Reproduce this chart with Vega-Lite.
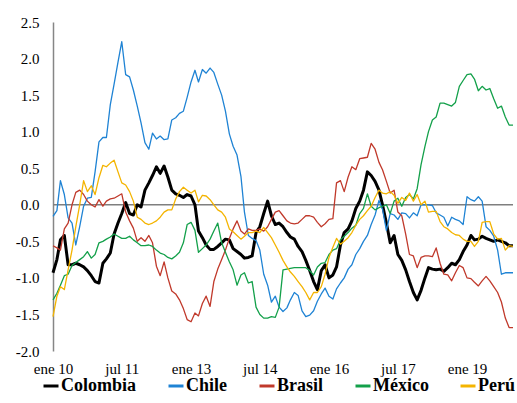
{
  "$schema": "https://vega.github.io/schema/vega-lite/v6.json",
  "width": 460,
  "height": 329,
  "autosize": "none",
  "padding": {"left": 53, "top": 22, "right": 4, "bottom": 52},
  "background": "white",
  "config": {"view": {"stroke": null}, "font": "Times New Roman"},
  "data": {"values": [
    {"fecha":"2010-01-01","Colombia":-0.93,"Chile":-0.16,"Brasil":-0.56,"México":-1.30,"Perú":-1.53},
    {"fecha":"2010-02-01","Colombia":-0.75,"Chile":-0.08,"Brasil":-0.59,"México":-1.21,"Perú":-1.25},
    {"fecha":"2010-03-01","Colombia":-0.48,"Chile":0.33,"Brasil":-0.62,"México":-1.10,"Perú":-1.12},
    {"fecha":"2010-04-01","Colombia":-0.42,"Chile":0.14,"Brasil":-0.33,"México":-0.97,"Perú":-1.16},
    {"fecha":"2010-05-01","Colombia":-0.82,"Chile":-0.18,"Brasil":-0.25,"México":-0.95,"Perú":-0.89},
    {"fecha":"2010-06-01","Colombia":-0.82,"Chile":-0.25,"Brasil":0.00,"México":-0.83,"Perú":-0.62},
    {"fecha":"2010-07-01","Colombia":-0.80,"Chile":-0.55,"Brasil":0.17,"México":-0.79,"Perú":-0.30},
    {"fecha":"2010-08-01","Colombia":-0.82,"Chile":-0.30,"Brasil":0.20,"México":-0.75,"Perú":0.00},
    {"fecha":"2010-09-01","Colombia":-0.85,"Chile":-0.02,"Brasil":0.14,"México":-0.71,"Perú":0.33},
    {"fecha":"2010-10-01","Colombia":-0.90,"Chile":0.09,"Brasil":0.05,"México":-0.64,"Perú":0.18},
    {"fecha":"2010-11-01","Colombia":-0.97,"Chile":0.10,"Brasil":0.00,"México":-0.73,"Perú":0.26},
    {"fecha":"2010-12-01","Colombia":-1.05,"Chile":0.45,"Brasil":-0.03,"México":-0.68,"Perú":0.14},
    {"fecha":"2011-01-01","Colombia":-1.07,"Chile":0.86,"Brasil":0.07,"México":-0.52,"Perú":0.37},
    {"fecha":"2011-02-01","Colombia":-0.80,"Chile":0.92,"Brasil":-0.02,"México":-0.50,"Perú":0.54},
    {"fecha":"2011-03-01","Colombia":-0.74,"Chile":0.92,"Brasil":0.05,"México":-0.47,"Perú":0.52},
    {"fecha":"2011-04-01","Colombia":-0.66,"Chile":1.37,"Brasil":0.08,"México":-0.44,"Perú":0.57},
    {"fecha":"2011-05-01","Colombia":-0.40,"Chile":1.65,"Brasil":0.09,"México":-0.40,"Perú":0.61},
    {"fecha":"2011-06-01","Colombia":-0.25,"Chile":1.95,"Brasil":0.12,"México":-0.43,"Perú":0.45},
    {"fecha":"2011-07-01","Colombia":-0.12,"Chile":2.23,"Brasil":0.15,"México":-0.46,"Perú":0.30},
    {"fecha":"2011-08-01","Colombia":0.03,"Chile":1.78,"Brasil":-0.10,"México":-0.46,"Perú":0.27},
    {"fecha":"2011-09-01","Colombia":-0.12,"Chile":1.75,"Brasil":-0.22,"México":-0.43,"Perú":0.18},
    {"fecha":"2011-10-01","Colombia":-0.14,"Chile":1.57,"Brasil":-0.32,"México":-0.48,"Perú":0.05},
    {"fecha":"2011-11-01","Colombia":0.00,"Chile":1.35,"Brasil":-0.50,"México":-0.52,"Perú":-0.17},
    {"fecha":"2011-12-01","Colombia":-0.03,"Chile":1.12,"Brasil":-0.45,"México":-0.56,"Perú":-0.20},
    {"fecha":"2012-01-01","Colombia":0.20,"Chile":0.85,"Brasil":-0.50,"México":-0.56,"Perú":-0.25},
    {"fecha":"2012-02-01","Colombia":0.30,"Chile":0.76,"Brasil":-0.42,"México":-0.55,"Perú":-0.27},
    {"fecha":"2012-03-01","Colombia":0.40,"Chile":0.98,"Brasil":-0.52,"México":-0.57,"Perú":-0.25},
    {"fecha":"2012-04-01","Colombia":0.52,"Chile":0.90,"Brasil":-0.84,"México":-0.62,"Perú":-0.22},
    {"fecha":"2012-05-01","Colombia":0.43,"Chile":0.94,"Brasil":-0.97,"México":-0.66,"Perú":-0.17},
    {"fecha":"2012-06-01","Colombia":0.53,"Chile":0.89,"Brasil":-0.78,"México":-0.68,"Perú":-0.10},
    {"fecha":"2012-07-01","Colombia":0.38,"Chile":0.90,"Brasil":-1.00,"México":-0.72,"Perú":-0.07},
    {"fecha":"2012-08-01","Colombia":0.20,"Chile":1.16,"Brasil":-1.18,"México":-0.74,"Perú":-0.07},
    {"fecha":"2012-09-01","Colombia":0.15,"Chile":1.19,"Brasil":-1.22,"México":-0.70,"Perú":0.08},
    {"fecha":"2012-10-01","Colombia":0.13,"Chile":1.25,"Brasil":-1.30,"México":-0.65,"Perú":0.18},
    {"fecha":"2012-11-01","Colombia":0.10,"Chile":1.28,"Brasil":-1.42,"México":-0.52,"Perú":0.24},
    {"fecha":"2012-12-01","Colombia":0.14,"Chile":1.47,"Brasil":-1.57,"México":-0.27,"Perú":0.20},
    {"fecha":"2013-01-01","Colombia":0.12,"Chile":1.68,"Brasil":-1.60,"México":-0.24,"Perú":0.16},
    {"fecha":"2013-02-01","Colombia":0.00,"Chile":1.84,"Brasil":-1.48,"México":-0.35,"Perú":0.20},
    {"fecha":"2013-03-01","Colombia":-0.36,"Chile":1.68,"Brasil":-1.52,"México":-0.65,"Perú":0.04},
    {"fecha":"2013-04-01","Colombia":-0.45,"Chile":1.85,"Brasil":-1.35,"México":-0.60,"Perú":0.13},
    {"fecha":"2013-05-01","Colombia":-0.55,"Chile":1.80,"Brasil":-1.25,"México":-0.55,"Perú":0.12},
    {"fecha":"2013-06-01","Colombia":-0.61,"Chile":1.87,"Brasil":-1.39,"México":-0.47,"Perú":0.07},
    {"fecha":"2013-07-01","Colombia":-0.61,"Chile":1.81,"Brasil":-1.05,"México":-0.36,"Perú":0.00},
    {"fecha":"2013-08-01","Colombia":-0.57,"Chile":1.65,"Brasil":-0.88,"México":-0.25,"Perú":-0.07},
    {"fecha":"2013-09-01","Colombia":-0.52,"Chile":1.50,"Brasil":-0.75,"México":-0.52,"Perú":-0.10},
    {"fecha":"2013-10-01","Colombia":-0.47,"Chile":1.28,"Brasil":-0.62,"México":-0.65,"Perú":-0.17},
    {"fecha":"2013-11-01","Colombia":-0.48,"Chile":0.97,"Brasil":-0.46,"México":-0.78,"Perú":-0.33},
    {"fecha":"2013-12-01","Colombia":-0.60,"Chile":0.80,"Brasil":-0.33,"México":-0.89,"Perú":-0.37},
    {"fecha":"2014-01-01","Colombia":-0.64,"Chile":0.68,"Brasil":-0.22,"México":-1.10,"Perú":-0.42},
    {"fecha":"2014-02-01","Colombia":-0.68,"Chile":0.39,"Brasil":-0.36,"México":-0.96,"Perú":-0.47},
    {"fecha":"2014-03-01","Colombia":-0.73,"Chile":-0.10,"Brasil":-0.40,"México":-0.93,"Perú":-0.43},
    {"fecha":"2014-04-01","Colombia":-0.72,"Chile":-0.42,"Brasil":-0.33,"México":-1.07,"Perú":-0.38},
    {"fecha":"2014-05-01","Colombia":-0.70,"Chile":-0.46,"Brasil":-0.35,"México":-1.05,"Perú":-0.38},
    {"fecha":"2014-06-01","Colombia":-0.38,"Chile":-0.49,"Brasil":-0.35,"México":-1.40,"Perú":-0.36},
    {"fecha":"2014-07-01","Colombia":-0.30,"Chile":-0.62,"Brasil":-0.33,"México":-1.50,"Perú":-0.38},
    {"fecha":"2014-08-01","Colombia":-0.12,"Chile":-0.95,"Brasil":-0.36,"México":-1.55,"Perú":-0.31},
    {"fecha":"2014-09-01","Colombia":0.05,"Chile":-1.10,"Brasil":-0.30,"México":-1.55,"Perú":-0.38},
    {"fecha":"2014-10-01","Colombia":-0.15,"Chile":-1.33,"Brasil":-0.20,"México":-1.53,"Perú":-0.45},
    {"fecha":"2014-11-01","Colombia":-0.27,"Chile":-1.25,"Brasil":-0.10,"México":-1.54,"Perú":-0.55},
    {"fecha":"2014-12-01","Colombia":-0.25,"Chile":-1.40,"Brasil":-0.08,"México":-1.40,"Perú":-0.65},
    {"fecha":"2015-01-01","Colombia":-0.30,"Chile":-1.46,"Brasil":-0.15,"México":-0.89,"Perú":-0.76},
    {"fecha":"2015-02-01","Colombia":-0.38,"Chile":-1.41,"Brasil":-0.22,"México":-0.88,"Perú":-0.85},
    {"fecha":"2015-03-01","Colombia":-0.44,"Chile":-1.30,"Brasil":-0.25,"México":-0.87,"Perú":-0.92},
    {"fecha":"2015-04-01","Colombia":-0.47,"Chile":-1.20,"Brasil":-0.26,"México":-0.86,"Perú":-0.98},
    {"fecha":"2015-05-01","Colombia":-0.57,"Chile":-1.24,"Brasil":-0.25,"México":-0.86,"Perú":-1.05},
    {"fecha":"2015-06-01","Colombia":-0.64,"Chile":-1.45,"Brasil":-0.20,"México":-0.86,"Perú":-1.12},
    {"fecha":"2015-07-01","Colombia":-0.76,"Chile":-1.53,"Brasil":-0.15,"México":-0.86,"Perú":-1.20},
    {"fecha":"2015-08-01","Colombia":-0.90,"Chile":-1.51,"Brasil":-0.15,"México":-0.90,"Perú":-1.30},
    {"fecha":"2015-09-01","Colombia":-1.05,"Chile":-1.45,"Brasil":-0.17,"México":-0.96,"Perú":-1.20},
    {"fecha":"2015-10-01","Colombia":-1.16,"Chile":-1.32,"Brasil":-0.24,"México":-0.85,"Perú":-1.20},
    {"fecha":"2015-11-01","Colombia":-0.90,"Chile":-1.22,"Brasil":-0.30,"México":-0.80,"Perú":-1.12},
    {"fecha":"2015-12-01","Colombia":-0.82,"Chile":-1.14,"Brasil":-0.26,"México":-0.79,"Perú":-0.95},
    {"fecha":"2016-01-01","Colombia":-1.00,"Chile":-1.25,"Brasil":-0.20,"México":-0.68,"Perú":-0.72},
    {"fecha":"2016-02-01","Colombia":-0.96,"Chile":-1.29,"Brasil":-0.19,"México":-0.62,"Perú":-0.58},
    {"fecha":"2016-03-01","Colombia":-0.85,"Chile":-1.15,"Brasil":0.30,"México":-0.60,"Perú":-0.46},
    {"fecha":"2016-04-01","Colombia":-0.55,"Chile":-1.07,"Brasil":0.33,"México":-0.48,"Perú":-0.54},
    {"fecha":"2016-05-01","Colombia":-0.38,"Chile":-1.00,"Brasil":0.18,"México":-0.43,"Perú":-0.50},
    {"fecha":"2016-06-01","Colombia":-0.33,"Chile":-0.88,"Brasil":0.38,"México":-0.38,"Perú":-0.45},
    {"fecha":"2016-07-01","Colombia":-0.22,"Chile":-0.82,"Brasil":0.52,"México":-0.32,"Perú":-0.38},
    {"fecha":"2016-08-01","Colombia":-0.05,"Chile":-0.68,"Brasil":0.48,"México":-0.28,"Perú":-0.28},
    {"fecha":"2016-09-01","Colombia":0.05,"Chile":-0.60,"Brasil":0.63,"México":-0.12,"Perú":-0.20},
    {"fecha":"2016-10-01","Colombia":0.20,"Chile":-0.50,"Brasil":0.64,"México":-0.05,"Perú":-0.15},
    {"fecha":"2016-11-01","Colombia":0.45,"Chile":-0.42,"Brasil":0.65,"México":0.15,"Perú":-0.08},
    {"fecha":"2016-12-01","Colombia":0.40,"Chile":-0.27,"Brasil":0.84,"México":-0.02,"Perú":-0.02},
    {"fecha":"2017-01-01","Colombia":0.32,"Chile":-0.14,"Brasil":0.76,"México":-0.07,"Perú":0.10},
    {"fecha":"2017-02-01","Colombia":0.20,"Chile":0.06,"Brasil":0.58,"México":-0.04,"Perú":0.20},
    {"fecha":"2017-03-01","Colombia":0.00,"Chile":-0.06,"Brasil":0.48,"México":-0.02,"Perú":0.16},
    {"fecha":"2017-04-01","Colombia":-0.25,"Chile":-0.35,"Brasil":0.32,"México":0.00,"Perú":0.15},
    {"fecha":"2017-05-01","Colombia":-0.52,"Chile":-0.12,"Brasil":0.16,"México":-0.12,"Perú":0.18},
    {"fecha":"2017-06-01","Colombia":-0.42,"Chile":-0.14,"Brasil":0.20,"México":0.05,"Perú":0.13},
    {"fecha":"2017-07-01","Colombia":-0.68,"Chile":-0.20,"Brasil":-0.10,"México":0.09,"Perú":0.02},
    {"fecha":"2017-08-01","Colombia":-0.76,"Chile":-0.11,"Brasil":-0.15,"México":-0.02,"Perú":0.10},
    {"fecha":"2017-09-01","Colombia":-0.89,"Chile":-0.12,"Brasil":-0.40,"México":0.10,"Perú":0.06},
    {"fecha":"2017-10-01","Colombia":-1.05,"Chile":-0.18,"Brasil":-0.68,"México":0.14,"Perú":0.16},
    {"fecha":"2017-11-01","Colombia":-1.20,"Chile":-0.11,"Brasil":-0.70,"México":0.08,"Perú":0.05},
    {"fecha":"2017-12-01","Colombia":-1.30,"Chile":-0.15,"Brasil":-0.86,"México":0.22,"Perú":0.14},
    {"fecha":"2018-01-01","Colombia":-1.17,"Chile":0.00,"Brasil":-0.72,"México":0.55,"Perú":0.00},
    {"fecha":"2018-02-01","Colombia":-1.00,"Chile":0.00,"Brasil":-0.70,"México":0.80,"Perú":0.05},
    {"fecha":"2018-03-01","Colombia":-0.86,"Chile":0.00,"Brasil":-0.70,"México":1.00,"Perú":-0.10},
    {"fecha":"2018-04-01","Colombia":-0.88,"Chile":-0.01,"Brasil":-0.71,"México":1.16,"Perú":-0.09},
    {"fecha":"2018-05-01","Colombia":-0.89,"Chile":-0.11,"Brasil":-0.59,"México":1.20,"Perú":-0.09},
    {"fecha":"2018-06-01","Colombia":-0.88,"Chile":-0.14,"Brasil":-0.80,"México":1.39,"Perú":-0.23},
    {"fecha":"2018-07-01","Colombia":-0.91,"Chile":-0.17,"Brasil":-0.95,"México":1.39,"Perú":-0.30},
    {"fecha":"2018-08-01","Colombia":-0.86,"Chile":-0.29,"Brasil":-0.96,"México":1.37,"Perú":-0.33},
    {"fecha":"2018-09-01","Colombia":-0.80,"Chile":-0.17,"Brasil":-1.04,"México":1.35,"Perú":-0.38},
    {"fecha":"2018-10-01","Colombia":-0.82,"Chile":-0.20,"Brasil":-0.93,"México":1.40,"Perú":-0.41},
    {"fecha":"2018-11-01","Colombia":-0.75,"Chile":-0.22,"Brasil":-0.83,"México":1.62,"Perú":-0.42},
    {"fecha":"2018-12-01","Colombia":-0.64,"Chile":-0.27,"Brasil":-0.86,"México":1.70,"Perú":-0.47},
    {"fecha":"2019-01-01","Colombia":-0.55,"Chile":0.11,"Brasil":-1.00,"México":1.78,"Perú":-0.50},
    {"fecha":"2019-02-01","Colombia":-0.42,"Chile":0.07,"Brasil":-1.01,"México":1.79,"Perú":-0.50},
    {"fecha":"2019-03-01","Colombia":-0.48,"Chile":0.05,"Brasil":-1.06,"México":1.72,"Perú":-0.57},
    {"fecha":"2019-04-01","Colombia":-0.47,"Chile":0.11,"Brasil":-1.11,"México":1.56,"Perú":-0.50},
    {"fecha":"2019-05-01","Colombia":-0.43,"Chile":0.05,"Brasil":-1.04,"México":1.62,"Perú":-0.24},
    {"fecha":"2019-06-01","Colombia":-0.46,"Chile":-0.30,"Brasil":-0.98,"México":1.57,"Perú":-0.23},
    {"fecha":"2019-07-01","Colombia":-0.48,"Chile":-0.35,"Brasil":-1.04,"México":1.59,"Perú":-0.23},
    {"fecha":"2019-08-01","Colombia":-0.50,"Chile":-0.43,"Brasil":-1.12,"México":1.45,"Perú":-0.40},
    {"fecha":"2019-09-01","Colombia":-0.48,"Chile":-0.62,"Brasil":-1.20,"México":1.32,"Perú":-0.47},
    {"fecha":"2019-10-01","Colombia":-0.50,"Chile":-0.95,"Brasil":-1.33,"México":1.35,"Perú":-0.46},
    {"fecha":"2019-11-01","Colombia":-0.52,"Chile":-0.93,"Brasil":-1.55,"México":1.20,"Perú":-0.62},
    {"fecha":"2019-12-01","Colombia":-0.56,"Chile":-0.93,"Brasil":-1.68,"México":1.09,"Perú":-0.56},
    {"fecha":"2020-01-01","Colombia":-0.56,"Chile":-0.93,"Brasil":-1.68,"México":1.09,"Perú":-0.57}
  ]},
  "resolve": {"axis": {"y": "independent"}},
  "layer": [
    {
      "data": {"values": [{}]},
      "mark": {"type": "rule", "color": "#7f7f7f", "strokeWidth": 1.5},
      "encoding": {"y": {"datum": 0, "type": "quantitative", "axis": null}}
    },
    {
      "transform": [{"fold": ["Colombia", "Chile", "Brasil", "México", "Perú"], "as": ["pais", "valor"]}],
      "mark": {"type": "line", "strokeJoin": "round"},
      "encoding": {
        "x": {
          "field": "fecha", "type": "temporal",
          "scale": {"type": "utc", "domain": [{"year": 2010, "month": 1, "date": 1, "utc": true}, {"year": 2020, "month": 1, "date": 1, "utc": true}]},
          "axis": {
            "values": [
              {"year": 2010, "month": 1, "date": 1, "utc": true},
              {"year": 2011, "month": 7, "date": 1, "utc": true},
              {"year": 2013, "month": 1, "date": 1, "utc": true},
              {"year": 2014, "month": 7, "date": 1, "utc": true},
              {"year": 2016, "month": 1, "date": 1, "utc": true},
              {"year": 2017, "month": 7, "date": 1, "utc": true},
              {"year": 2019, "month": 1, "date": 1, "utc": true}
            ],
            "labelExpr": "(utcmonth(datum.value) == 0 ? 'ene ' : 'jul ') + utcFormat(datum.value, '%y')",
            "domain": false, "ticks": false, "grid": false, "title": null,
            "labelFlush": false, "labelOverlap": false,
            "labelFont": "Times New Roman", "labelFontSize": 15, "labelColor": "#000000", "labelPadding": 10
          }
        },
        "y": {
          "field": "valor", "type": "quantitative",
          "scale": {"domain": [-2, 2.5], "nice": false, "zero": false},
          "axis": {
            "values": [-2, -1.5, -1, -0.5, 0, 0.5, 1, 1.5, 2, 2.5],
            "labelExpr": "(datum.value < 0 ? '-' : '') + format(abs(datum.value), '.1f')",
            "domain": true, "domainColor": "#868686", "domainWidth": 1.5,
            "ticks": false, "grid": false, "title": null, "labelOverlap": false, "labelFlush": false,
            "labelFont": "Times New Roman", "labelFontSize": 15, "labelColor": "#000000", "labelPadding": 14
          }
        },
        "color": {
          "field": "pais", "type": "nominal",
          "scale": {"domain": ["Colombia", "Chile", "Brasil", "México", "Perú"], "range": ["#000000", "#1f83d4", "#c0392b", "#13a04a", "#f4b400"]},
          "legend": {
            "title": null, "orient": "none", "direction": "horizontal",
            "legendX": -11, "legendY": 355,
            "symbolType": "stroke", "symbolStrokeWidth": 3, "symbolSize": 225,
            "labelFont": "Times New Roman", "labelFontWeight": "bold", "labelFontSize": 18, "labelColor": "#000000",
            "labelOffset": 1, "columnPadding": 25
          }
        },
        "strokeWidth": {"condition": {"test": "datum.pais === 'Colombia'", "value": 3}, "value": 1.3}
      }
    }
  ]
}
